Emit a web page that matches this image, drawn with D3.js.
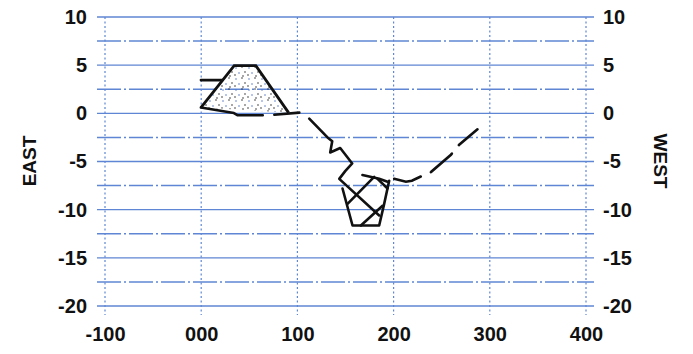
<!DOCTYPE html>
<html>
<head>
<meta charset="utf-8">
<script src="https://cdn.jsdelivr.net/npm/d3@7"></script>
<style>
  html, body { margin: 0; padding: 0; background: #fff; }
  svg { display: block; }
  text { font-family: "Liberation Sans", Arial, sans-serif; font-weight: bold; fill: #111; }
</style>
</head>
<body>
<svg id="chart" width="693" height="354"></svg>
<script>
// ---- data ----
const xTicks = [-100, 0, 100, 200, 300, 400];
const yTicks = [-20, -15, -10, -5, 0, 5, 10];
const yHalfLines = [-17.5, -12.5, -7.5, -2.5, 2.5, 7.5];
const xTickLabels = ["-100", "000", "100", "200", "300", "400"];

// stippled trapezoid (outline)
const trapezoid = [[-0.3, 0.6], [34.3, 4.95], [56.8, 4.95], [90.8, 0.07]];
// base line under trapezoid (two pieces)
const baseA = [[-0.3, 0.6], [34, 0.03], [38, -0.2], [64, -0.2]];
const baseB = [[76, -0.14], [102, 0.07]];
// short shelf line on the left
const shelf = [[-0.3, 3.45], [22, 3.45]];
// descending jagged track
const track = [[112.3, -0.55], [131.3, -2.5], [136.2, -2.9], [134.1, -4.06], [144.5, -3.6],
               [157, -5.2], [149.7, -6.0], [143.5, -6.8], [185, -10.6]];
// cup and cross strokes
const cup = [[146.9, -7.8], [157.3, -11.64], [185, -11.64], [190.2, -9.4], [195.4, -7.0]];
const crossA = [[152.1, -9.4], [179.8, -6.6]];
const crossB = [[166, -11.64], [188.5, -9.6]];
const capA = [[167.6, -6.4], [185, -6.8], [193.7, -7.1]];
const capB = [[183.3, -6.8], [193.7, -7.8]];
// dashed rising track
const rising = [[200.6, -6.8], [212.8, -7.1], [219, -7.0], [228.4, -6.55], [238.8, -6.1],
                [259.6, -4.3], [268.2, -3.25], [287.2, -1.66]];

// ---- chart ----
const svg = d3.select("#chart");
const x = d3.scaleLinear().domain([-100, 400]).range([105, 586]);
const y = d3.scaleLinear().domain([-20, 10]).range([306, 17]);
const grid = "#5f86d4";
const ext = 8;

// stipple pattern
const defs = svg.append("defs");
const pat = defs.append("pattern").attr("id", "stip").attr("patternUnits", "userSpaceOnUse")
  .attr("width", 13).attr("height", 11);
const dots = [[2,2],[8,1],[11,6],[5,7],[9,10],[1,9]];
pat.selectAll("circle").data(dots).join("circle")
  .attr("cx", d => d[0]).attr("cy", d => d[1]).attr("r", 0.75)
  .attr("fill", (d, i) => i % 3 === 0 ? "#4a6fbf" : "#222");

// vertical dotted grid lines
svg.append("g").selectAll("line").data(xTicks).join("line")
  .attr("x1", d => x(d)).attr("x2", d => x(d))
  .attr("y1", y(10)).attr("y2", y(-20) + 9)
  .attr("stroke", grid).attr("stroke-width", 1.2).attr("stroke-dasharray", "2,2.5");

// half-step dash-dot lines
svg.append("g").selectAll("line").data(yHalfLines).join("line")
  .attr("x1", x(-100) - ext).attr("x2", x(400) + ext)
  .attr("y1", d => y(d)).attr("y2", d => y(d))
  .attr("stroke", grid).attr("stroke-width", 1.5).attr("stroke-dasharray", "24,3,2,3");

// major solid lines
svg.append("g").selectAll("line").data(yTicks).join("line")
  .attr("x1", x(-100) - ext).attr("x2", x(400) + ext)
  .attr("y1", d => y(d)).attr("y2", d => y(d))
  .attr("stroke", grid).attr("stroke-width", 1.4);

// axes labels
const fs = "20px";
const left = svg.append("g").attr("transform", `translate(${x(-100)},0)`)
  .call(d3.axisLeft(y).tickValues(yTicks).tickSize(0).tickPadding(18).tickFormat(d => String(d)));
const right = svg.append("g").attr("transform", `translate(${x(400)},0)`)
  .call(d3.axisRight(y).tickValues(yTicks).tickSize(0).tickPadding(17).tickFormat(d => String(d)));
const bottom = svg.append("g").attr("transform", `translate(0,${y(-20)})`)
  .call(d3.axisBottom(x).tickValues(xTicks).tickSize(0).tickPadding(21)
    .tickFormat((d, i) => xTickLabels[i]));
[left, right, bottom].forEach(g => {
  g.select(".domain").remove();
  g.selectAll("text").attr("font-size", fs).attr("fill", "#111")
    .attr("font-family", "'Liberation Sans', Arial, sans-serif").attr("font-weight", "bold");
});

svg.append("text").attr("transform", "translate(36,161) rotate(-90)")
  .attr("text-anchor", "middle").attr("font-size", "19px").text("EAST");
svg.append("text").attr("transform", "translate(654,161) rotate(90)")
  .attr("text-anchor", "middle").attr("font-size", "19px").text("WEST");

// marks
const line = d3.line().x(d => x(d[0])).y(d => y(d[1]));
const ink = "#111";
svg.append("path").attr("d", line(trapezoid) + "Z").attr("fill", "url(#stip)").attr("stroke", "none");
svg.append("path").attr("d", line(trapezoid)).attr("fill", "none").attr("stroke", ink)
  .attr("stroke-width", 2.8).attr("stroke-linejoin", "miter");
[baseA, baseB, shelf, track, cup, crossA, crossB, capA, capB].forEach(pts => {
  svg.append("path").attr("d", line(pts)).attr("fill", "none").attr("stroke", ink)
    .attr("stroke-width", 2.6).attr("stroke-linejoin", "round").attr("stroke-linecap", "round");
});
svg.append("path").attr("d", line(rising)).attr("fill", "none").attr("stroke", ink)
  .attr("stroke-width", 2.6).attr("stroke-dasharray", "28,11").attr("stroke-linecap", "round");
</script>
</body>
</html>
